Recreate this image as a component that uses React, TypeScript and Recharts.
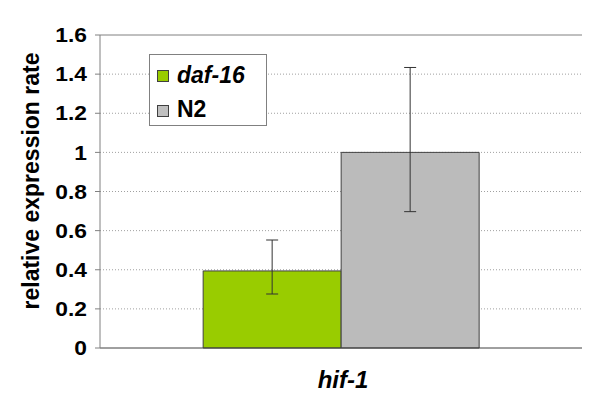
import {
  BarChart,
  Bar,
  XAxis,
  YAxis,
  CartesianGrid,
  ErrorBar,
  ReferenceLine,
  Legend,
} from "recharts";

const categories = ["hif-1"];
const daf16Values = [0.394];
const daf16Errors = [[0.118, 0.158]];
const n2Values = [1.0];
const n2Errors = [[0.303, 0.434]];
const yTicks = [0, 0.2, 0.4, 0.6, 0.8, 1, 1.2, 1.4, 1.6];

const data = categories.map((c, i) => ({
  name: c,
  daf16: daf16Values[i],
  daf16Err: daf16Errors[i],
  n2: n2Values[i],
  n2Err: n2Errors[i],
}));

const FONT = '"Liberation Sans", Arial, sans-serif';

// legend drawn as a small svg box, positioned inside the plot
const renderLegend = () => (
  <svg width={118} height={72} style={{ display: "block" }}>
    <rect x={0.5} y={0.5} width={117} height={71} fill="#fff" stroke="#808080" />
    <rect x={8.5} y={16.5} width={11} height={11} fill="#99CC00" stroke="#404040" />
    <text x={28} y={29} fontFamily={FONT} fontWeight="bold" fontStyle="italic" fontSize={23} fill="#000">
      daf-16
    </text>
    <rect x={8.5} y={51.5} width={11} height={11} fill="#C0C0C0" stroke="#404040" />
    <text x={28} y={63} fontFamily={FONT} fontWeight="bold" fontSize={23} fill="#000">
      N2
    </text>
  </svg>
);

// excel-ish wide tick labels
const YTick = (props: any) => {
  const { x, y, payload } = props;
  return (
    <g transform={`translate(${x},${y})`}>
      <text
        transform="scale(1.14,1)"
        textAnchor="end"
        dy="0.36em"
        fontFamily={FONT}
        fontWeight="bold"
        fontSize={20}
        fill="#000"
      >
        {payload.value}
      </text>
    </g>
  );
};

const YLabel = () => (
  <text
    transform="translate(39,181) rotate(-90)"
    textAnchor="middle"
    fontFamily={FONT}
    fontWeight="bold"
    fontSize={23}
    fill="#000"
  >
    relative expression rate
  </text>
);

const XLabel = () => (
  <text
    x={343}
    y={388}
    textAnchor="middle"
    fontFamily={FONT}
    fontWeight="bold"
    fontStyle="italic"
    fontSize={24}
    fill="#000"
  >
    hif-1
  </text>
);

export default function App() {
  return (
    <div style={{ position: "absolute", left: 0, top: 0, background: "#fff" }}>
      <BarChart
        width={600}
        height={408}
        data={data}
        margin={{ top: 35, right: 18, bottom: 0, left: 0 }}
        barCategoryGap="21.4%"
        barGap={0}
      >
        <CartesianGrid
          vertical={false}
          stroke="#a0a0a0"
          strokeDasharray="1 2"
          horizontalValues={[0.2, 0.4, 0.6, 0.8, 1, 1.2, 1.4]}
        />
        <ReferenceLine y={1.6} stroke="#808080" strokeWidth={1} />
        <XAxis
          dataKey="name"
          height={60}
          tick={false}
          tickLine={false}
          axisLine={{ stroke: "#404040" }}
          label={<XLabel />}
        />
        <YAxis
          width={100}
          domain={[0, 1.6]}
          ticks={yTicks}
          interval={0}
          tickSize={5}
          tickMargin={8}
          axisLine={{ stroke: "#808080" }}
          tickLine={{ stroke: "#808080" }}
          tick={<YTick />}
          label={<YLabel />}
        />
        <Legend
          layout="horizontal"
          verticalAlign="middle"
          align="center"
          content={renderLegend}
          wrapperStyle={{ left: 149, top: 54, width: 118, height: 72 }}
        />
        <Bar dataKey="daf16" fill="#99CC00" stroke="#404040" strokeWidth={1} isAnimationActive={false}>
          <ErrorBar dataKey="daf16Err" width={6} stroke="#333" strokeWidth={1} />
        </Bar>
        <Bar dataKey="n2" fill="#BBBBBB" stroke="#404040" strokeWidth={1} isAnimationActive={false}>
          <ErrorBar dataKey="n2Err" width={6} stroke="#333" strokeWidth={1} />
        </Bar>
      </BarChart>
    </div>
  );
}
